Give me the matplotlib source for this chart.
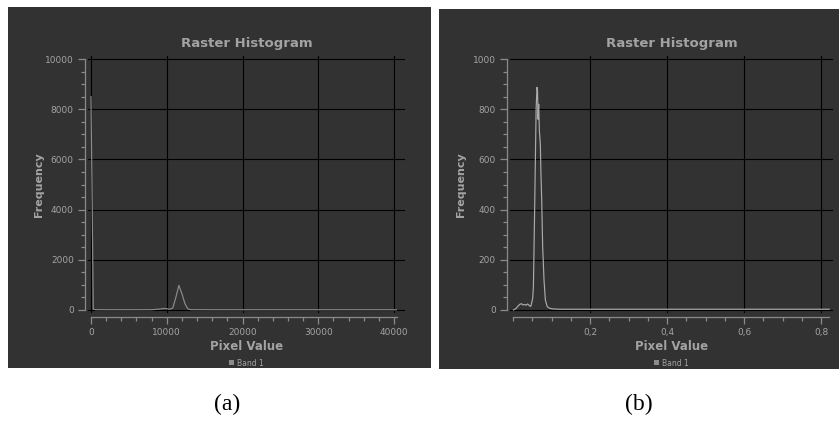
import matplotlib
matplotlib.use("Agg")
import matplotlib.pyplot as plt
from matplotlib.patches import Rectangle, Patch
from matplotlib.ticker import MultipleLocator, FixedLocator, FuncFormatter

# ---------------- data ----------------
title = "Raster Histogram"
xlabel = "Pixel Value"
ylabel = "Frequency"
series_name = "Band 1"
captions = ["(a)", "(b)"]

a_x = [0, 300, 600, 2000, 4000, 6000, 8000, 9200, 9600, 10000, 10400, 10800,
       11200, 11600, 12000, 12400, 12800, 13200, 16000, 20000, 25000, 30000,
       35000, 40300]
a_y = [8500, 30, 12, 8, 8, 8, 10, 40, 60, 50, 30, 80,
       500, 980, 650, 250, 40, 12, 8, 8, 8, 8, 8, 8]
a_xticks = [0, 10000, 20000, 30000, 40000]
a_yticks = [0, 2000, 4000, 6000, 8000, 10000]

b_x = [0.001, 0.008, 0.012, 0.018, 0.022, 0.026, 0.030, 0.034, 0.038, 0.042,
       0.046, 0.048, 0.051, 0.053, 0.056, 0.060, 0.0623, 0.0638, 0.065, 0.0667,
       0.0685, 0.071, 0.0725, 0.0745, 0.077, 0.0805, 0.084, 0.089, 0.095,
       0.105, 0.12, 0.15, 0.2, 0.25, 0.3, 0.4, 0.5, 0.6, 0.7, 0.8, 0.821]
b_y = [0, 6, 14, 23, 25, 20, 22, 19, 24, 18,
       14, 25, 45, 93, 380, 800, 887, 873, 760, 820,
       713, 660, 547, 440, 253, 120, 40, 13, 7,
       4, 3, 3, 3, 3, 3, 3, 3, 3, 3, 3, 3]
b_xticks = [0.2, 0.4, 0.6, 0.8]
b_yticks = [0, 200, 400, 600, 800, 1000]

# ---------------- style ----------------
W, H = 839, 426
BG = "#323232"
TXT = "#a3a3a3"
AX = "#8a8a8a"

fig = plt.figure(figsize=(W / 100, H / 100), dpi=100)
fig.patch.set_facecolor("white")


def fx(px):
    return px / W


def fy(py):
    return 1 - py / H


# panel backgrounds
panels = [(8, 7, 431, 368), (439, 9, 839, 369)]
for (x0, y0, x1, y1) in panels:
    fig.patches.append(Rectangle((fx(x0), fy(y1)), (x1 - x0) / W, (y1 - y0) / H,
                                 transform=fig.transFigure, facecolor=BG,
                                 edgecolor="none", zorder=-5))

# canvases (px)
canv = [(88, 56, 405, 313), (510, 56, 833, 313)]
configs = [
    dict(x=a_x, y=a_y, xticks=a_xticks, yticks=a_yticks, xlim=(-396, 41452),
         ylim=(-120, 10120), xminor=2000, yminor=500, xb=(0, 40400),
         fmt=lambda v, p: f"{int(v)}", lc="#8c8c8c"),
    dict(x=b_x, y=b_y, xticks=b_xticks, yticks=b_yticks, xlim=(-0.0078, 0.831),
         ylim=(-12, 1012), xminor=0.05, yminor=50, xb=(0, 0.821),
         fmt=lambda v, p: f"{v:.1f}".replace(".", ","), lc="#ababab"),
]

for (x0, y0, x1, y1), c in zip(canv, configs):
    ax = fig.add_axes([fx(x0), fy(y1), (x1 - x0) / W, (y1 - y0) / H])
    ax.set_zorder(2)
    ax.set_facecolor("none")
    ax.set_xlim(*c["xlim"])
    ax.set_ylim(*c["ylim"])
    for t in c["yticks"]:
        ax.axhline(t, color="black", lw=0.8, zorder=1)
    for t in c["xticks"]:
        ax.axvline(t, color="black", lw=0.8, zorder=1)
    ax.plot(c["x"], c["y"], color=c["lc"], lw=0.85, zorder=3)

    ax.spines["top"].set_visible(False)
    ax.spines["right"].set_visible(False)
    ax.spines["left"].set_position(("outward", 2.2))
    ax.spines["bottom"].set_position(("outward", 3))
    ax.spines["left"].set_bounds(0, c["yticks"][-1])
    ax.spines["bottom"].set_bounds(*c["xb"])
    for s in ("left", "bottom"):
        ax.spines[s].set_color(AX)
        ax.spines[s].set_linewidth(0.9)

    ax.xaxis.set_major_locator(FixedLocator(c["xticks"]))
    ax.yaxis.set_major_locator(FixedLocator(c["yticks"]))
    ax.xaxis.set_minor_locator(MultipleLocator(c["xminor"]))
    ax.yaxis.set_minor_locator(MultipleLocator(c["yminor"]))
    ax.xaxis.set_major_formatter(FuncFormatter(c["fmt"]))
    ax.tick_params(which="major", length=5, width=0.9, color=AX, labelcolor=TXT,
                   labelsize=6.5, pad=3)
    ax.tick_params(which="minor", length=3, width=0.9, color=AX)

    cx = (x0 + x1) / 2
    fig.text(fx(cx), fy(43), title, ha="center", va="center", color=TXT,
             fontsize=9.5, fontweight="bold")
    fig.text(fx(cx), fy(346), xlabel, ha="center", va="center", color=TXT,
             fontsize=8.5, fontweight="bold")
    fig.text(fx(x0 - 49), fy((y0 + y1) / 2), ylabel, ha="center", va="center",
             color=TXT, fontsize=8, fontweight="bold", rotation=90)
    fig.legend(handles=[Patch(facecolor="#8c8c8c", edgecolor="none")],
               labels=[series_name], loc="center",
               bbox_to_anchor=(fx(cx), fy(363)), frameon=False, fontsize=5.5,
               labelcolor=TXT, handlelength=0.6, handleheight=0.6,
               handletextpad=0.4, borderpad=0)

fig.text(fx(227), fy(404), captions[0], ha="center", va="center",
         fontsize=17, family="Liberation Serif", color="black")
fig.text(fx(639), fy(404), captions[1], ha="center", va="center",
         fontsize=17, family="Liberation Serif", color="black")

fig.savefig("out.png", dpi=100, facecolor="white")
